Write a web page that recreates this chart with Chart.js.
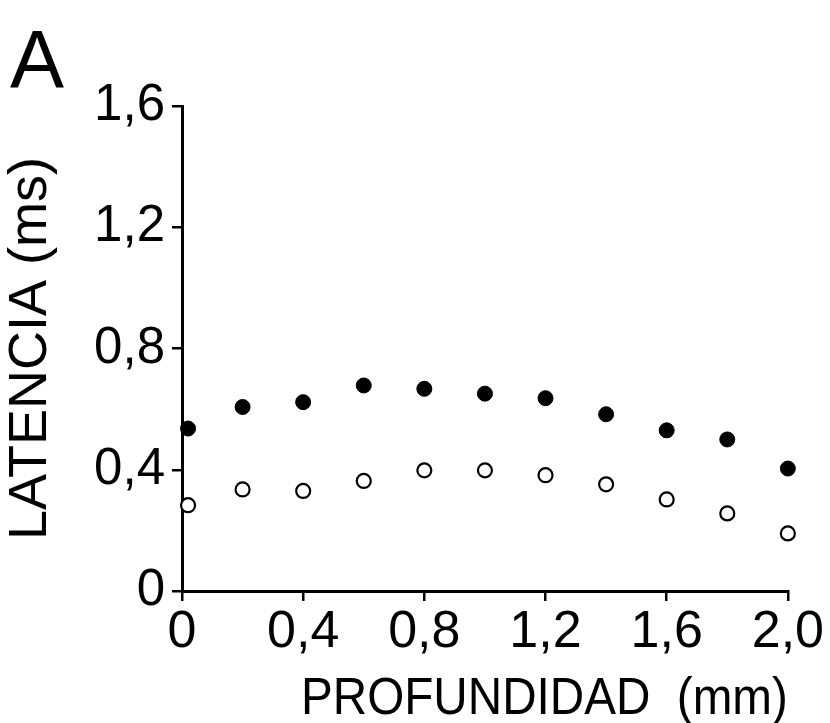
<!DOCTYPE html>
<html>
<head>
<meta charset="utf-8">
<script src="https://cdn.jsdelivr.net/npm/chart.js@4.4.1/dist/chart.umd.min.js"></script>
<style>
  html, body { margin: 0; padding: 0; background: #fff; }
  #wrap { width: 830px; height: 723px; position: relative; }
</style>
</head>
<body>
<div id="wrap"><canvas id="c"></canvas></div>
<script>
// ---- data ----
const panelLabel = 'A';
const xTitle = 'PROFUNDIDAD  (mm)';
const yTitle = 'LATENCIA (ms)';
const depthX = [0.02, 0.2, 0.4, 0.6, 0.8, 1.0, 1.2, 1.4, 1.6, 1.8, 2.0];
const filledLatency = [0.536, 0.607, 0.623, 0.678, 0.667, 0.651, 0.636, 0.583, 0.530, 0.500, 0.404];
const openLatency   = [0.283, 0.335, 0.330, 0.363, 0.398, 0.398, 0.382, 0.352, 0.302, 0.256, 0.190];
const xTickValues = [0, 0.4, 0.8, 1.2, 1.6, 2.0];
const xTickLabels = ['0', '0,4', '0,8', '1,2', '1,6', '2,0'];
const yTickValues = [0, 0.4, 0.8, 1.2, 1.6];
const yTickLabels = ['0', '0,4', '0,8', '1,2', '1,6'];

const FONT = "'Liberation Sans', Arial, Helvetica, sans-serif";

function pts(xs, ys) { return xs.map((x, i) => ({ x: x, y: ys[i] })); }

new Chart(document.getElementById('c'), {
  type: 'scatter',
  data: {
    datasets: [
      {
        data: pts(depthX, filledLatency),
        pointStyle: 'circle',
        pointRadius: 7.5,
        backgroundColor: '#000',
        borderColor: '#000',
        borderWidth: 1,
        clip: false
      },
      {
        data: pts(depthX, openLatency),
        pointStyle: 'circle',
        pointRadius: 7,
        backgroundColor: '#fff',
        borderColor: '#000',
        borderWidth: 2.2,
        clip: false
      }
    ]
  },
  options: {
    responsive: true,
    maintainAspectRatio: false,
    animation: false,
    events: [],
    layout: { padding: { left: 10, right: 41, top: 0, bottom: 0 } },
    plugins: {
      legend: { display: false },
      tooltip: { enabled: false },
      title: {
        display: true,
        text: panelLabel,
        align: 'start',
        color: '#000',
        font: { family: FONT, size: 81, weight: 'normal', lineHeight: 1 },
        padding: { top: 24, bottom: 1 }
      }
    },
    scales: {
      x: {
        type: 'linear',
        min: 0,
        max: 2.0,
        afterBuildTicks: (s) => { s.ticks = xTickValues.map(v => ({ value: v })); },
        afterFit: (s) => { s.height = 132; },
        ticks: {
          color: '#000',
          font: { family: FONT, size: 52, lineHeight: 1 },
          padding: 6,
          maxRotation: 0,
          autoSkip: false,
          callback: (v, i) => xTickLabels[i]
        },
        grid: {
          display: true,
          drawOnChartArea: false,
          drawTicks: true,
          tickLength: 10,
          color: '#000',
          lineWidth: 2.5
        },
        border: { display: true, color: '#000', width: 3 },
        title: {
          display: true,
          text: '         ' + xTitle,
          align: 'start',
          color: '#000',
          font: { family: FONT, size: 52, lineHeight: 0.9 },
          padding: { top: 0, bottom: 0 }
        }
      },
      y: {
        type: 'linear',
        min: 0,
        max: 1.6,
        afterBuildTicks: (s) => { s.ticks = yTickValues.map(v => ({ value: v })); },
        afterFit: (s) => { s.width = 172; },
        ticks: {
          color: '#000',
          font: { family: FONT, size: 51, lineHeight: 1 },
          padding: 7,
          autoSkip: false,
          callback: (v, i) => yTickLabels[i]
        },
        grid: {
          display: true,
          drawOnChartArea: false,
          drawTicks: true,
          tickLength: 10,
          color: '#000',
          lineWidth: 2.5
        },
        border: { display: true, color: '#000', width: 3 },
        title: {
          display: true,
          text: yTitle,
          align: 'center',
          color: '#000',
          font: { family: FONT, size: 54, lineHeight: 0.8 },
          padding: { top: 0, bottom: 0 }
        }
      }
    }
  }
});
</script>
</body>
</html>
